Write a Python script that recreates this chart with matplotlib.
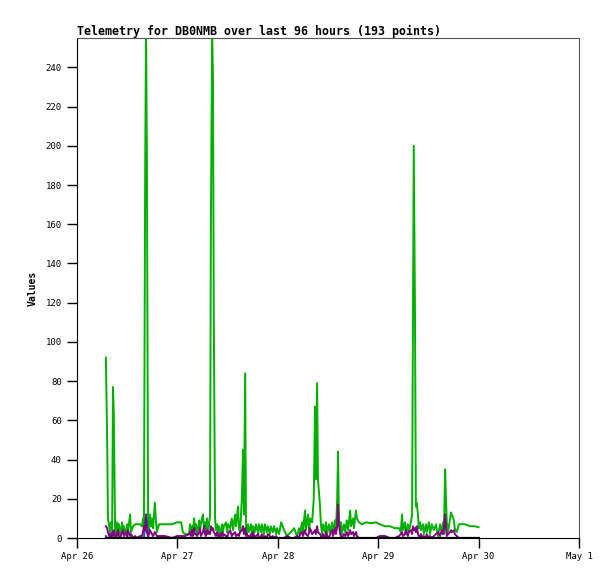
"""Telemetry chart for DB0NMB, last 96 hours."""

from datetime import datetime, timedelta

import matplotlib

matplotlib.use("Agg")
import matplotlib.dates as mdates
import matplotlib.pyplot as plt
import numpy as np

START = datetime(2024, 4, 26)

# hours since Apr 26 00:00 for each sample
hours = [
    6.9, 7.2, 7.4, 7.7, 7.9, 8.1, 8.4, 8.6, 8.8, 9.1, 9.3, 9.6, 9.8, 10.0, 10.3,
    10.8, 11.0, 11.2, 11.7, 12.0, 12.2, 12.7, 12.9, 13.4, 13.9, 14.3, 15.1, 15.5,
    15.8, 16.0, 16.3, 16.5, 16.7, 17.0, 17.2, 17.4, 17.7, 17.9, 18.2, 18.6, 18.9,
    19.1, 19.6, 21.0, 22.7, 23.9, 24.9, 25.3, 25.8, 26.8, 27.0, 27.2, 27.5, 27.7,
    28.0, 28.2, 28.4, 28.7, 29.2, 29.4, 29.6, 30.1, 30.4, 30.6, 30.8, 31.1, 31.3,
    31.5, 31.8, 32.0, 32.3, 32.5, 32.7, 33.0, 33.2, 33.5, 33.7, 33.9, 34.2, 34.7,
    34.9, 35.1, 35.6, 35.9, 36.1, 36.6, 37.0, 37.3, 37.8, 38.0, 38.5, 38.7, 39.0,
    39.4, 39.7, 39.9, 40.2, 40.4, 40.6, 40.9, 41.1, 41.6, 41.8, 42.1, 42.5, 42.8,
    43.3, 43.5, 44.0, 44.2, 44.7, 44.9, 45.4, 45.6, 46.1, 46.3, 46.8, 47.1, 47.6,
    47.8, 48.3, 48.8, 49.5, 50.2, 51.1, 51.9, 52.6, 53.1, 53.3, 53.8, 54.0, 54.5,
    54.7, 55.2, 55.5, 55.7, 56.2, 56.6, 56.9, 57.1, 57.4, 57.6, 58.1, 58.3, 58.6,
    58.8, 59.3, 59.5, 59.8, 60.2, 60.5, 61.0, 61.2, 61.7, 61.9, 62.2, 62.4, 62.6,
    62.9, 63.1, 63.3, 63.8, 64.1, 64.5, 64.8, 65.3, 65.5, 66.0, 66.2, 66.7, 66.9,
    67.4, 68.1, 69.1, 70.3, 71.5, 72.4, 73.6, 74.8, 76.0, 77.0, 77.4, 77.7, 77.9,
    78.4, 78.6, 79.1, 79.3, 79.8, 80.1, 80.3, 80.5, 80.8, 81.0, 81.2, 81.5, 81.7,
    82.0, 82.2, 82.7, 82.9, 83.4, 83.6, 84.1, 84.4, 84.8, 85.3, 85.8, 86.3, 86.8,
    87.2, 87.5, 87.7, 88.0, 88.2, 88.4, 88.7, 89.2, 89.4, 89.6, 90.1, 90.3, 90.8,
    91.3, 92.7, 93.9, 95.1, 96.0,
]

green_values = [
    92, 52, 10, 6, 3, 8, 4, 77, 63, 5, 2, 8, 3, 7, 2,
    8, 3, 6, 2, 7, 4, 12, 3, 6, 7, 7, 7, 6,
    10, 4, 188, 260, 198, 10, 4, 12, 6, 10, 5, 18, 8,
    3, 7, 7, 7, 8, 8, 3, 2, 2, 7, 2, 6, 3,
    10, 4, 7, 2, 9, 4, 7, 12, 3, 8, 4, 10, 3,
    6, 11, 157, 260, 235, 113, 10, 4, 7, 3, 6, 2, 7,
    3, 6, 8, 3, 7, 5, 10, 4, 12, 6, 16, 5, 3,
    20, 45, 12, 84, 5, 2, 7, 3, 7, 2, 6, 3, 7,
    2, 7, 3, 7, 2, 7, 3, 6, 2, 6, 3, 6, 2,
    5, 2, 8, 4, 1, 3, 5, 1, 5, 2, 8, 3, 14,
    4, 12, 3, 10, 8, 20, 67, 30, 79, 30, 16, 7, 2,
    7, 3, 8, 2, 7, 3, 8, 2, 9, 3, 20, 44, 10,
    4, 8, 2, 7, 3, 9, 4, 14, 6, 10, 5, 14, 10,
    8, 7, 8, 7.5, 8, 7, 6, 6, 5, 5, 3, 12, 4,
    8, 2, 7, 3, 8, 12, 103, 200, 113, 16, 18, 12, 5,
    8, 4, 7, 2, 7, 3, 8, 2, 7, 4, 7, 1, 7,
    3, 8, 2, 35, 20, 8, 3, 10, 13, 12, 9, 5, 3,
    7, 7, 6, 6, 5.5,
]

purple_values = [
    6, 5, 3, 1, 2, 0, 3, 1, 4, 1, 0, 2, 4, 1, 0,
    3, 4, 1, 3, 0, 4, 1, 2, 0, 1, 0, 1, 1,
    3, 6, 4, 12, 3, 1, 2, 4, 3, 2, 1, 3, 2,
    1, 1, 1, 0, 1, 1, 1, 1, 2, 3, 1, 4, 1,
    5, 2, 2, 1, 3, 5, 1, 3, 6, 2, 1, 4, 2,
    3, 2, 6, 4, 5, 3, 2, 1, 3, 1, 2, 0, 3,
    1, 2, 1, 0, 2, 4, 1, 2, 3, 1, 2, 1, 3,
    4, 6, 2, 5, 1, 2, 1, 0, 2, 0, 3, 0, 1,
    2, 0, 1, 2, 0, 1, 0, 2, 1, 0, 1, 0, 1,
    0, 0, 0, 0, 1, 0, 0, 1, 0, 2, 3, 1, 4,
    2, 1, 3, 5, 2, 3, 4, 2, 6, 3, 2, 1, 0,
    2, 0, 3, 1, 0, 2, 4, 1, 5, 2, 6, 17, 8,
    2, 1, 0, 2, 1, 3, 1, 4, 2, 3, 1, 3, 1,
    0, 0, 0, 0, 0, 1, 1, 0, 0, 1, 2, 3, 1,
    2, 4, 1, 3, 4, 2, 6, 4, 5, 3, 6, 2, 1,
    0, 2, 0, 1, 0, 2, 0, 1, 0, 1, 2, 3, 1,
    4, 2, 5, 12, 5, 1, 2, 3, 4, 3, 4, 2, 1,
    0, 0, 0, 0, 0,
]

blue_hours = [6.9, 7.2, 16.0, 16.3, 16.5, 16.7, 17.0, 96.0]
blue_values = [1, 0, 0, 6, 12, 8, 0, 0]

times = [START + timedelta(hours=h) for h in hours]
blue_times = [START + timedelta(hours=h) for h in blue_hours]

plt.rcParams["font.family"] = ["DejaVu Sans Mono"]

fig = plt.figure(figsize=(6.15, 5.79), dpi=100)
ax = fig.add_axes([77 / 615, 41 / 579, 502 / 615, 500 / 579])

ax.plot(times, green_values, color="#00b000", lw=1.4)
ax.plot(blue_times, blue_values, color="#0060c0", lw=1.4)
ax.plot(times, purple_values, color="#800080", lw=1.4)
ax.plot(times, np.zeros(len(times)), color="black", lw=1.6)

ax.set_xlim(START, START + timedelta(days=5))
ax.set_ylim(0, 255)
ax.set_yticks(range(0, 241, 20))
ax.xaxis.set_major_locator(mdates.DayLocator())
ax.xaxis.set_major_formatter(
    plt.FuncFormatter(lambda v, _: (lambda d: f"{d:%b} {d.day}")(mdates.num2date(v)))
)

ax.tick_params(direction="out", length=7, width=1, labelsize=6.5, colors="black")
ax.tick_params(axis="x", pad=3)
ax.tick_params(axis="y", pad=4)
for side in ("top", "right"):
    ax.spines[side].set_color("#555555")
for side in ("left", "bottom"):
    ax.spines[side].set_color("black")

ax.set_ylabel("Values", fontsize=7, fontweight="bold", labelpad=6)
fig.text(77 / 615, 1 - 35 / 579, "Telemetry for DB0NMB over last 96 hours (193 points)",
         fontsize=8.4, fontweight="bold", ha="left", va="baseline")

fig.savefig("out.png", dpi=100)
